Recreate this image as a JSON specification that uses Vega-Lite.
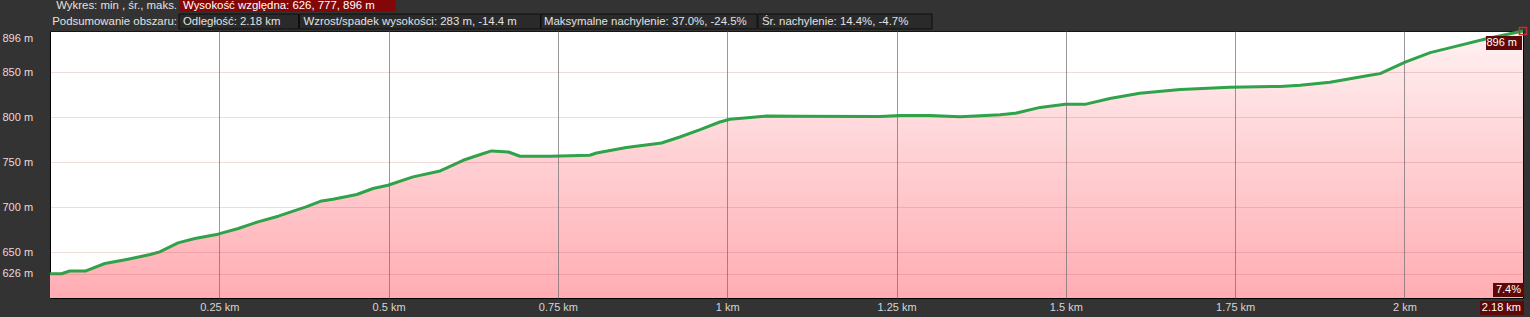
{
  "$schema": "https://vega.github.io/schema/vega-lite/v6.json",
  "autosize": {"type": "none"},
  "width": 1473,
  "height": 267,
  "padding": {"left": 50, "top": 31, "right": 7, "bottom": 19},
  "background": "#333333",
  "config": {
    "font": "Liberation Sans",
    "view": {"stroke": "#000000", "strokeWidth": 1, "fill": "#ffffff"}
  },
  "data": {"values": [
    {"d": 0, "h": 626}, {"d": 0.017, "h": 626}, {"d": 0.029, "h": 629}, {"d": 0.052, "h": 629},
    {"d": 0.081, "h": 637.4}, {"d": 0.115, "h": 642.2}, {"d": 0.148, "h": 647.4}, {"d": 0.162, "h": 650.3},
    {"d": 0.189, "h": 660.3}, {"d": 0.214, "h": 665.2}, {"d": 0.248, "h": 670}, {"d": 0.278, "h": 676.3},
    {"d": 0.307, "h": 683.7}, {"d": 0.337, "h": 690}, {"d": 0.378, "h": 700.3}, {"d": 0.401, "h": 707},
    {"d": 0.418, "h": 708.9}, {"d": 0.453, "h": 714.1}, {"d": 0.477, "h": 720.8}, {"d": 0.499, "h": 724.4},
    {"d": 0.536, "h": 733.7}, {"d": 0.576, "h": 740.3}, {"d": 0.586, "h": 743.7}, {"d": 0.61, "h": 752.2},
    {"d": 0.64, "h": 759.7}, {"d": 0.652, "h": 762.6}, {"d": 0.677, "h": 761.4}, {"d": 0.694, "h": 756.7},
    {"d": 0.738, "h": 756.7}, {"d": 0.797, "h": 757.8}, {"d": 0.807, "h": 760.3}, {"d": 0.851, "h": 766.3},
    {"d": 0.903, "h": 771.4}, {"d": 0.93, "h": 778.1}, {"d": 0.96, "h": 786.3}, {"d": 0.989, "h": 794.8},
    {"d": 1.004, "h": 797.8}, {"d": 1.034, "h": 799.7}, {"d": 1.058, "h": 801.4}, {"d": 1.107, "h": 801.1},
    {"d": 1.225, "h": 801}, {"d": 1.255, "h": 802}, {"d": 1.299, "h": 802}, {"d": 1.344, "h": 800.5},
    {"d": 1.403, "h": 802.8}, {"d": 1.425, "h": 804.4}, {"d": 1.462, "h": 811}, {"d": 1.499, "h": 814.4},
    {"d": 1.528, "h": 814.4}, {"d": 1.565, "h": 821}, {"d": 1.609, "h": 826.7}, {"d": 1.669, "h": 831},
    {"d": 1.742, "h": 833.3}, {"d": 1.816, "h": 834.4}, {"d": 1.846, "h": 835.6}, {"d": 1.89, "h": 838.9},
    {"d": 1.949, "h": 846.7}, {"d": 1.964, "h": 848.6}, {"d": 2.001, "h": 861.4}, {"d": 2.038, "h": 871.9},
    {"d": 2.077, "h": 879.2}, {"d": 2.121, "h": 887.4}, {"d": 2.175, "h": 896}
  ]},
  "layer": [
    {
      "mark": {
        "type": "area",
        "clip": true,
        "color": {
          "gradient": "linear", "x1": 0, "y1": 0, "x2": 0, "y2": 1,
          "stops": [{"offset": 0, "color": "#fff1f2"}, {"offset": 1, "color": "#ffadb3"}]
        }
      },
      "encoding": {
        "x": {
          "field": "d", "type": "quantitative",
          "scale": {"domain": [0, 2.175], "nice": false, "zero": false},
          "axis": {
            "values": [0.25, 0.5, 0.75, 1, 1.25, 1.5, 1.75, 2],
            "labelExpr": "datum.value + ' km'",
            "title": null, "domain": false, "ticks": false, "tickSize": 0,
            "labelPadding": 3, "labelColor": "#d6d6d6", "labelFontSize": 11,
            "labelFlush": false, "labelOverlap": false,
            "grid": true, "gridColor": "#6e6e6e", "gridOpacity": 0.7, "gridWidth": 1,
            "zindex": 1
          }
        },
        "y": {
          "field": "h", "type": "quantitative",
          "scale": {"domain": [599, 896], "nice": false, "zero": false},
          "axis": {
            "values": [626, 650, 700, 750, 800, 850, 896],
            "labelExpr": "datum.value + ' m'",
            "title": null, "domain": false, "ticks": false, "tickSize": 0,
            "labelAlign": "left", "labelPadding": 48, "labelColor": "#ecd8d8", "labelFontSize": 11,
            "labelFlush": false, "labelOverlap": false,
            "labelOffset": {"condition": {"test": "datum.value === 896", "value": 7}, "value": 0},
            "grid": true, "gridColor": "#b84848", "gridOpacity": 0.2, "gridWidth": 1,
            "zindex": 1
          }
        },
        "y2": {"datum": 599}
      }
    },
    {
      "mark": {"type": "line", "color": "#2ea34a", "strokeWidth": 3, "strokeJoin": "round"},
      "encoding": {
        "x": {"field": "d", "type": "quantitative"},
        "y": {"field": "h", "type": "quantitative"}
      }
    },
    {
      "data": {"values": [{}]},
      "mark": {"type": "rect", "color": "#5e0808", "xOffset": -37, "x2Offset": -1, "yOffset": 5, "y2Offset": 19},
      "encoding": {
        "x": {"datum": 2.175, "type": "quantitative"}, "x2": {"datum": 2.175},
        "y": {"datum": 896, "type": "quantitative"}, "y2": {"datum": 896}
      }
    },
    {
      "data": {"values": [{"t": "896 m"}]},
      "mark": {"type": "text", "align": "right", "baseline": "middle", "dx": -6, "dy": 12, "fontSize": 11, "color": "#ffffff"},
      "encoding": {
        "x": {"datum": 2.175, "type": "quantitative"},
        "y": {"datum": 896, "type": "quantitative"},
        "text": {"field": "t"}
      }
    },
    {
      "data": {"values": [{}]},
      "mark": {"type": "point", "shape": "square", "size": 50, "filled": false, "stroke": "#c83030", "strokeWidth": 1.5, "opacity": 1},
      "encoding": {
        "x": {"datum": 2.175, "type": "quantitative"},
        "y": {"datum": 896, "type": "quantitative"}
      }
    },
    {
      "data": {"values": [{}]},
      "mark": {"type": "rect", "color": "#5e0808", "xOffset": -30, "x2Offset": 1, "yOffset": -15, "y2Offset": -1},
      "encoding": {
        "x": {"datum": 2.175, "type": "quantitative"}, "x2": {"datum": 2.175},
        "y": {"datum": 599, "type": "quantitative"}, "y2": {"datum": 599}
      }
    },
    {
      "data": {"values": [{"t": "7.4%"}]},
      "mark": {"type": "text", "align": "right", "baseline": "middle", "dx": -2, "dy": -8, "fontSize": 11, "color": "#ffffff"},
      "encoding": {
        "x": {"datum": 2.175, "type": "quantitative"},
        "y": {"datum": 599, "type": "quantitative"},
        "text": {"field": "t"}
      }
    },
    {
      "data": {"values": [{}]},
      "mark": {"type": "rect", "color": "#5e0808", "xOffset": -43, "x2Offset": 1, "yOffset": 3, "y2Offset": 17},
      "encoding": {
        "x": {"datum": 2.175, "type": "quantitative"}, "x2": {"datum": 2.175},
        "y": {"datum": 599, "type": "quantitative"}, "y2": {"datum": 599}
      }
    },
    {
      "data": {"values": [{"t": "2.18 km"}]},
      "mark": {"type": "text", "align": "right", "baseline": "middle", "dx": -2, "dy": 10, "fontSize": 11, "color": "#ffffff"},
      "encoding": {
        "x": {"datum": 2.175, "type": "quantitative"},
        "y": {"datum": 599, "type": "quantitative"},
        "text": {"field": "t"}
      }
    },
    {
      "data": {"values": [{}]},
      "mark": {"type": "rect", "color": "#840707"},
      "encoding": {"x": {"value": 129.5}, "x2": {"value": 345.5}, "y": {"value": -31}, "y2": {"value": -19}}
    },
    {
      "data": {"values": [{}]},
      "mark": {"type": "rect", "fill": "#2a2a2a", "stroke": "#0e0e0e", "strokeWidth": 1},
      "encoding": {"x": {"value": 129}, "x2": {"value": 248.5}, "y": {"value": -17}, "y2": {"value": -2}}
    },
    {
      "data": {"values": [{}]},
      "mark": {"type": "rect", "fill": "#2a2a2a", "stroke": "#0e0e0e", "strokeWidth": 1},
      "encoding": {"x": {"value": 249.5}, "x2": {"value": 490.5}, "y": {"value": -17}, "y2": {"value": -2}}
    },
    {
      "data": {"values": [{}]},
      "mark": {"type": "rect", "fill": "#2a2a2a", "stroke": "#0e0e0e", "strokeWidth": 1},
      "encoding": {"x": {"value": 491}, "x2": {"value": 707}, "y": {"value": -17}, "y2": {"value": -2}}
    },
    {
      "data": {"values": [{}]},
      "mark": {"type": "rect", "fill": "#2a2a2a", "stroke": "#0e0e0e", "strokeWidth": 1},
      "encoding": {"x": {"value": 708}, "x2": {"value": 882}, "y": {"value": -17}, "y2": {"value": -2}}
    },
    {
      "data": {"values": [{"t": "Wykres: min , śr., maks."}]},
      "mark": {"type": "text", "align": "right", "baseline": "middle", "fontSize": 11.4, "color": "#e2e2e2"},
      "encoding": {"x": {"value": 127}, "y": {"value": -25}, "text": {"field": "t"}}
    },
    {
      "data": {"values": [{"t": "Wysokość względna: 626, 777, 896 m"}]},
      "mark": {"type": "text", "align": "left", "baseline": "middle", "fontSize": 11.4, "color": "#ffffff"},
      "encoding": {"x": {"value": 133}, "y": {"value": -25}, "text": {"field": "t"}}
    },
    {
      "data": {"values": [{"t": "Podsumowanie obszaru:"}]},
      "mark": {"type": "text", "align": "right", "baseline": "middle", "fontSize": 11.4, "color": "#e2e2e2"},
      "encoding": {"x": {"value": 127}, "y": {"value": -9.5}, "text": {"field": "t"}}
    },
    {
      "data": {"values": [{"t": "Odległość: 2.18 km"}]},
      "mark": {"type": "text", "align": "left", "baseline": "middle", "fontSize": 11.4, "color": "#e2e2e2"},
      "encoding": {"x": {"value": 133}, "y": {"value": -9.5}, "text": {"field": "t"}}
    },
    {
      "data": {"values": [{"t": "Wzrost/spadek wysokości: 283 m, -14.4 m"}]},
      "mark": {"type": "text", "align": "left", "baseline": "middle", "fontSize": 11.4, "color": "#e2e2e2"},
      "encoding": {"x": {"value": 253.5}, "y": {"value": -9.5}, "text": {"field": "t"}}
    },
    {
      "data": {"values": [{"t": "Maksymalne nachylenie: 37.0%, -24.5%"}]},
      "mark": {"type": "text", "align": "left", "baseline": "middle", "fontSize": 11.4, "color": "#e2e2e2"},
      "encoding": {"x": {"value": 494}, "y": {"value": -9.5}, "text": {"field": "t"}}
    },
    {
      "data": {"values": [{"t": "Śr. nachylenie: 14.4%, -4.7%"}]},
      "mark": {"type": "text", "align": "left", "baseline": "middle", "fontSize": 11.4, "color": "#e2e2e2"},
      "encoding": {"x": {"value": 712}, "y": {"value": -9.5}, "text": {"field": "t"}}
    }
  ]
}
